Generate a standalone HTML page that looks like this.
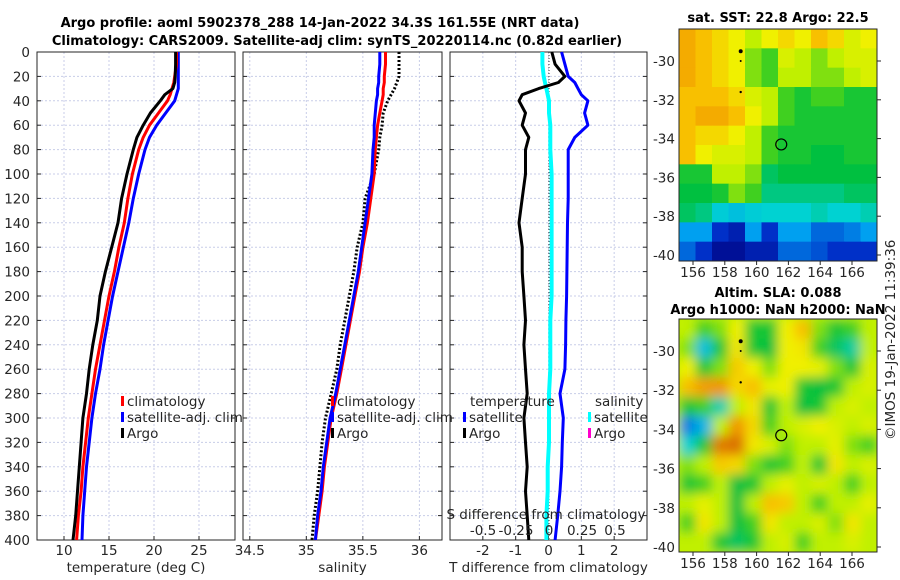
<!DOCTYPE html>
<html><head><meta charset="utf-8"><style>
body{margin:0;background:#fff}
svg{display:block;font-family:"DejaVu Sans","Liberation Sans",sans-serif}
.t{font-size:13.5px;fill:#262626}
.b{font-weight:bold;font-size:13px;fill:#000}
</style></head><body>
<svg id="s" width="900" height="580" viewBox="0 0 900 580">
<defs>
<filter id="bl" x="0" y="0" width="1" height="1"><feGaussianBlur stdDeviation="5.5"/></filter>
<clipPath id="c1"><rect x="679" y="29" width="198" height="232"/></clipPath>
<clipPath id="c2"><rect x="679" y="319" width="198" height="233"/></clipPath>
</defs>
<text class="b" x="320" y="27" text-anchor="middle">Argo profile: aoml 5902378_288 14-Jan-2022 34.3S 161.55E (NRT data)</text>
<text class="b" x="337" y="45" text-anchor="middle">Climatology: CARS2009. Satellite-adj clim: synTS_20220114.nc (0.82d earlier)</text>
<text class="b" x="778" y="22" text-anchor="middle">sat. SST: 22.8 Argo: 22.5</text>
<text class="b" x="778" y="297" text-anchor="middle">Altim. SLA: 0.088</text>
<text class="b" x="778" y="314" text-anchor="middle">Argo h1000: NaN h2000: NaN</text>
<text class="t" transform="translate(895,440) rotate(-90)">©IMOS 19-Jan-2022 11:39:36</text>
<g id="g"></g>
</svg>
<script>
const depths=[0,10,20,25,30,35,40,50,60,70,80,100,120,140,160,180,200,220,240,260,280,300,320,340,360,380,400];
const tArgo=[22.4,22.4,22.35,22.3,22.1,21.2,20.7,19.6,18.8,18.1,17.7,17.0,16.4,16.0,15.3,14.6,14.0,13.7,13.2,12.8,12.5,12.1,11.9,11.7,11.5,11.3,11.0];
const tClim=[22.5,22.5,22.3,22.2,22.0,21.8,21.5,20.5,19.5,18.8,18.3,17.6,17.1,16.7,16.1,15.6,15.0,14.5,14.0,13.5,13.1,12.7,12.4,12.1,11.9,11.6,11.4];
const tSat=[22.7,22.7,22.7,22.7,22.7,22.5,22.3,21.3,20.3,19.5,19.0,18.3,17.7,17.2,16.6,16.0,15.4,14.9,14.4,14.0,13.5,13.1,12.8,12.5,12.3,12.1,12.0];
const sArgo=[35.82,35.82,35.82,35.8,35.78,35.75,35.72,35.68,35.67,35.65,35.64,35.6,35.52,35.5,35.45,35.42,35.38,35.34,35.3,35.27,35.22,35.17,35.14,35.12,35.1,35.07,35.05];
const sClim=[35.7,35.7,35.69,35.69,35.68,35.68,35.67,35.65,35.63,35.62,35.61,35.6,35.57,35.54,35.5,35.47,35.43,35.39,35.35,35.31,35.27,35.22,35.19,35.16,35.14,35.11,35.08];
const sSat=[35.65,35.65,35.64,35.64,35.63,35.63,35.62,35.61,35.6,35.6,35.59,35.58,35.55,35.52,35.49,35.46,35.42,35.38,35.34,35.3,35.26,35.21,35.18,35.15,35.13,35.1,35.08];
const dTArgo=[0.1,0.2,0.5,0.3,-0.3,-0.8,-0.9,-0.7,-0.8,-0.6,-0.7,-0.7,-0.8,-0.9,-0.8,-0.8,-0.75,-0.7,-0.75,-0.7,-0.65,-0.75,-0.7,-0.65,-0.7,-0.65,-0.6];
const dTSat=[0.4,0.5,0.6,0.8,0.9,1.0,1.2,1.1,1.2,0.8,0.6,0.6,0.6,0.58,0.57,0.56,0.55,0.53,0.52,0.5,0.35,0.45,0.42,0.4,0.35,0.28,0.2];
const dSSat=[-0.05,-0.05,-0.04,-0.03,-0.02,-0.01,0,0,0.01,0.01,0.01,0.02,0.02,0.02,0.02,0.02,0.02,0.01,0.01,0.01,0,0,0,-0.01,-0.01,-0.02,-0.02];
const depthTicks=[0,20,40,60,80,100,120,140,160,180,200,220,240,260,280,300,320,340,360,380,400];
const tTicks=[10,15,20,25], sTicks=[34.5,35,35.5,36], dTicks=[-2,-1,0,1,2];
const dSTicks=[-0.5,-0.25,0,0.25,0.5], dSLabels=['-0.5','-0.25','0','0.25','0.5'];
const latTicks=[-30,-32,-34,-36,-38,-40], lonTicks=[156,158,160,162,164,166];
const sstGrid=[
[0.85,0.8,0.75,0.7,0.6,0.7,0.75,0.7,0.8,0.75,0.65,0.7],
[0.85,0.8,0.75,0.7,0.55,0.5,0.65,0.6,0.55,0.6,0.65,0.65],
[0.85,0.8,0.75,0.7,0.55,0.5,0.6,0.6,0.55,0.55,0.6,0.65],
[0.8,0.8,0.8,0.75,0.65,0.6,0.5,0.45,0.5,0.5,0.45,0.45],
[0.8,0.85,0.85,0.8,0.7,0.6,0.5,0.45,0.45,0.45,0.45,0.45],
[0.8,0.75,0.75,0.7,0.6,0.5,0.45,0.45,0.45,0.45,0.45,0.45],
[0.8,0.7,0.65,0.65,0.6,0.5,0.45,0.45,0.42,0.42,0.45,0.45],
[0.45,0.45,0.6,0.6,0.55,0.4,0.42,0.42,0.42,0.42,0.42,0.42],
[0.42,0.42,0.45,0.55,0.5,0.38,0.38,0.38,0.38,0.38,0.4,0.4],
[0.4,0.38,0.32,0.3,0.32,0.33,0.33,0.33,0.35,0.33,0.33,0.35],
[0.25,0.25,0.15,0.1,0.25,0.15,0.25,0.25,0.2,0.2,0.22,0.25],
[0.2,0.15,0.05,0.05,0.1,0.1,0.2,0.2,0.18,0.15,0.15,0.15]];
const slaGrid=[
[0.6,0.5,0.55,0.7,0.45,0.45,0.7,0.8,0.55,0.45,0.5,0.6],
[0.55,0.3,0.45,0.72,0.45,0.42,0.7,0.72,0.5,0.4,0.36,0.6],
[0.7,0.45,0.55,0.78,0.7,0.55,0.7,0.7,0.68,0.55,0.45,0.65],
[0.8,0.88,0.9,0.75,0.8,0.68,0.7,0.45,0.42,0.45,0.6,0.65],
[0.45,0.5,0.35,0.6,0.72,0.45,0.6,0.42,0.45,0.6,0.65,0.6],
[0.22,0.28,0.6,0.9,0.75,0.5,0.6,0.65,0.7,0.65,0.6,0.65],
[0.33,0.45,0.95,0.97,0.72,0.65,0.55,0.6,0.6,0.68,0.55,0.5],
[0.55,0.6,0.78,0.75,0.55,0.45,0.5,0.6,0.45,0.72,0.6,0.65],
[0.45,0.5,0.6,0.42,0.45,0.6,0.68,0.6,0.65,0.6,0.5,0.6],
[0.6,0.68,0.6,0.42,0.6,0.8,0.78,0.6,0.5,0.6,0.6,0.68],
[0.5,0.72,0.6,0.42,0.5,0.72,0.6,0.6,0.65,0.55,0.72,0.6],
[0.6,0.6,0.45,0.4,0.45,0.6,0.65,0.5,0.6,0.6,0.65,0.6]];

const NS='http://www.w3.org/2000/svg', G=document.getElementById('g');
function mk(tag,at,txt){const e=document.createElementNS(NS,tag);for(const k in at)e.setAttribute(k,at[k]);if(txt!==undefined)e.textContent=txt;return e;}
const Y0=52,Y1=540;
const yD=d=>Y0+d/400*(Y1-Y0);
const p1={x0:37,x1:235,lo:7,hi:29}, p2={x0:243,x1:442,lo:34.44,hi:36.2}, p3={x0:450,x1:647,lo:-3,hi:3};
const sx=(p,v)=>p.x0+(v-p.lo)/(p.hi-p.lo)*(p.x1-p.x0);
const sxS=v=>549+v*132;

function frame(p,name,xt,xl,yl){
  const g=mk('g',{});
  
  
  depthTicks.forEach(d=>{g.appendChild(mk('line',{x1:p.x0,x2:p.x1,y1:yD(d),y2:yD(d),stroke:'#c8cde8','stroke-dasharray':'2,2','stroke-width':1}));
    g.appendChild(mk('line',{x1:p.x0,x2:p.x0+4,y1:yD(d),y2:yD(d),stroke:'#262626'}));
    g.appendChild(mk('line',{x1:p.x1,x2:p.x1-4,y1:yD(d),y2:yD(d),stroke:'#262626'}));
    if(yl){const t=mk('text',{x:30,y:yD(d)+5,'text-anchor':'end',class:'t'},d);g.appendChild(t);}
  });
  xt.forEach(v=>{const x=sx(p,v);g.appendChild(mk('line',{x1:x,x2:x,y1:Y0,y2:Y1,stroke:'#c8cde8','stroke-dasharray':'2,2'}));
    g.appendChild(mk('line',{x1:x,x2:x,y1:Y1,y2:Y1-4,stroke:'#262626'}));
    const t=mk('text',{x:x,y:555,'text-anchor':'middle',class:'t'},v);g.appendChild(t);});
  g.appendChild(mk('rect',{x:p.x0,y:Y0,width:p.x1-p.x0,height:Y1-Y0,fill:'none',stroke:'#262626'}));
  const t=mk('text',{x:(p.x0+p.x1)/2,y:572,'text-anchor':'middle',class:'t'},xl);
  g.appendChild(t);
  G.appendChild(g);
}
frame(p1,'temperature-panel',tTicks,'temperature (deg C)',true);
frame(p2,'salinity-panel',sTicks,'salinity',false);
frame(p3,'difference-panel',dTicks,'T difference from climatology',false);

function line(arr,fx,col,w,name,dash){
  const pts=arr.map((v,i)=>fx(v).toFixed(1)+','+yD(depths[i]).toFixed(1)).join(' ');
  const a={points:pts,fill:'none',stroke:col,'stroke-width':w,'stroke-linejoin':'round'};
  if(dash)a['stroke-dasharray']=dash;
  const e=mk('polyline',a);
  
  
  G.appendChild(e);
}
line(tSat,v=>sx(p1,v),'#0000ff',3,'t-satellite-line');
line(tClim,v=>sx(p1,v),'#ff0000',3,'t-climatology-line');
line(tArgo,v=>sx(p1,v),'#000',3,'t-argo-line');
line(sArgo,v=>sx(p2,v),'#000',3,'s-argo-line','2,2');
line(sClim,v=>sx(p2,v),'#ff0000',3,'s-climatology-line');
line(sSat,v=>sx(p2,v),'#0000ff',3,'s-satellite-line');
G.appendChild(mk('line',{x1:549,x2:549,y1:Y0,y2:Y1,stroke:'#333','stroke-dasharray':'1,2'}));
line(dSSat,sxS,'#00ffff',4,'s-diff-satellite-line');
line(dTSat,v=>sx(p3,v),'#0000ff',3,'t-diff-satellite-line');
line(dTArgo,v=>sx(p3,v),'#000',3,'t-diff-argo-line');

function leg(x,y,col,txt,name){
  const g=mk('g',{});
  if(col)g.appendChild(mk('rect',{x:x,y:y-10,width:3,height:10,fill:col}));
  g.appendChild(mk('text',{x:x+(col?6:0),y:y,class:'t'},txt));G.appendChild(g);
}
leg(121,406,'#ff0000','climatology','legend-climatology');
leg(121,422,'#0000ff','satellite-adj. clim','legend-satellite-adj');
leg(121,438,'#000','Argo','legend-argo');
leg(331,406,'#ff0000','climatology','legend-climatology-s');
leg(331,422,'#0000ff','satellite-adj. clim','legend-satellite-adj-s');
leg(331,438,'#000','Argo','legend-argo-s');
leg(470,406,null,'temperature','legend-temperature-header');
leg(463,422,'#0000ff','satellite','legend-t-satellite');
leg(463,438,'#000','Argo','legend-t-argo');
leg(595,406,null,'salinity','legend-salinity-header');
leg(588,422,'#00ffff','satellite','legend-s-satellite');
leg(588,438,'#ff00cc','Argo','legend-s-argo');
{const t=mk('text',{x:546,y:519,'text-anchor':'middle',class:'t'},'S difference from climatology');G.appendChild(t);}
dSTicks.forEach((v,i)=>{const t=mk('text',{x:sxS(v),y:535,'text-anchor':'middle',class:'t'},dSLabels[i]);G.appendChild(t);});

const stops=[[0,[0,0,127]],[0.15,[0,48,200]],[0.25,[0,160,240]],[0.33,[0,210,210]],[0.42,[0,192,64]],[0.5,[64,208,32]],[0.6,[192,240,0]],[0.7,[240,240,0]],[0.8,[248,192,0]],[0.9,[240,150,0]],[1,[208,96,0]]];
function cmap(v){for(let i=1;i<stops.length;i++){if(v<=stops[i][0]){const a=stops[i-1],b=stops[i],f=(v-a[0])/(b[0]-a[0]);return 'rgb('+a[1].map((c,k)=>Math.round(c+(b[1][k]-c)*f)).join(',')+')';}}return 'rgb(208,96,0)';}
function map(grid,top,bot,lat30,lat40,clip,blur,name){
  const x0=679,x1=877,lonX=l=>693+(l-156)*15.9, latY=l=>lat30+(-30-l)*(lat40-lat30)/10;
  const g=mk('g',{'clip-path':'url(#'+clip+')'});
  const inner=mk('g',blur?{filter:'url(#bl)'}:{});
  const cw=(x1-x0)/grid[0].length, ch=(bot-top)/grid.length;
  if(blur){inner.appendChild(mk('rect',{x:x0-20,y:top-20,width:240,height:bot-top+40,fill:cmap(0.6)}));}
  grid.forEach((row,r)=>row.forEach((v,c)=>{const e=mk('rect',{x:x0+c*cw,y:top+r*ch,width:cw+0.5,height:ch+0.5,fill:cmap(v)});
    inner.appendChild(e);}));
  g.appendChild(inner);G.appendChild(g);
  G.appendChild(mk('circle',{cx:lonX(161.55),cy:latY(-34.3),r:5.5,fill:'none',stroke:'#000','stroke-width':1.2}));
  [[-29.5,2],[-30,1],[-31.6,1.2]].forEach(p=>G.appendChild(mk('circle',{cx:lonX(159),cy:latY(p[0]),r:p[1],fill:'#000'})));
  G.appendChild(mk('rect',{x:x0,y:top,width:x1-x0,height:bot-top,fill:'none',stroke:'#262626'}));
  latTicks.forEach(l=>{const y=latY(l);G.appendChild(mk('line',{x1:x1,x2:x1+4,y1:y,y2:y,stroke:'#262626'}));
    const t=mk('text',{x:675,y:y+5,'text-anchor':'end',class:'t'},l);G.appendChild(t);});
  lonTicks.forEach(l=>{const x=lonX(l);G.appendChild(mk('line',{x1:x,x2:x,y1:bot,y2:bot+4,stroke:'#262626'}));
    const t=mk('text',{x:x,y:bot+16,'text-anchor':'middle',class:'t'},l);G.appendChild(t);});
}
map(sstGrid,29,261,61,255,'c1',false,'sst-map');
map(slaGrid,319,552,351,547,'c2',true,'sla-map');
</script>
</body></html>
